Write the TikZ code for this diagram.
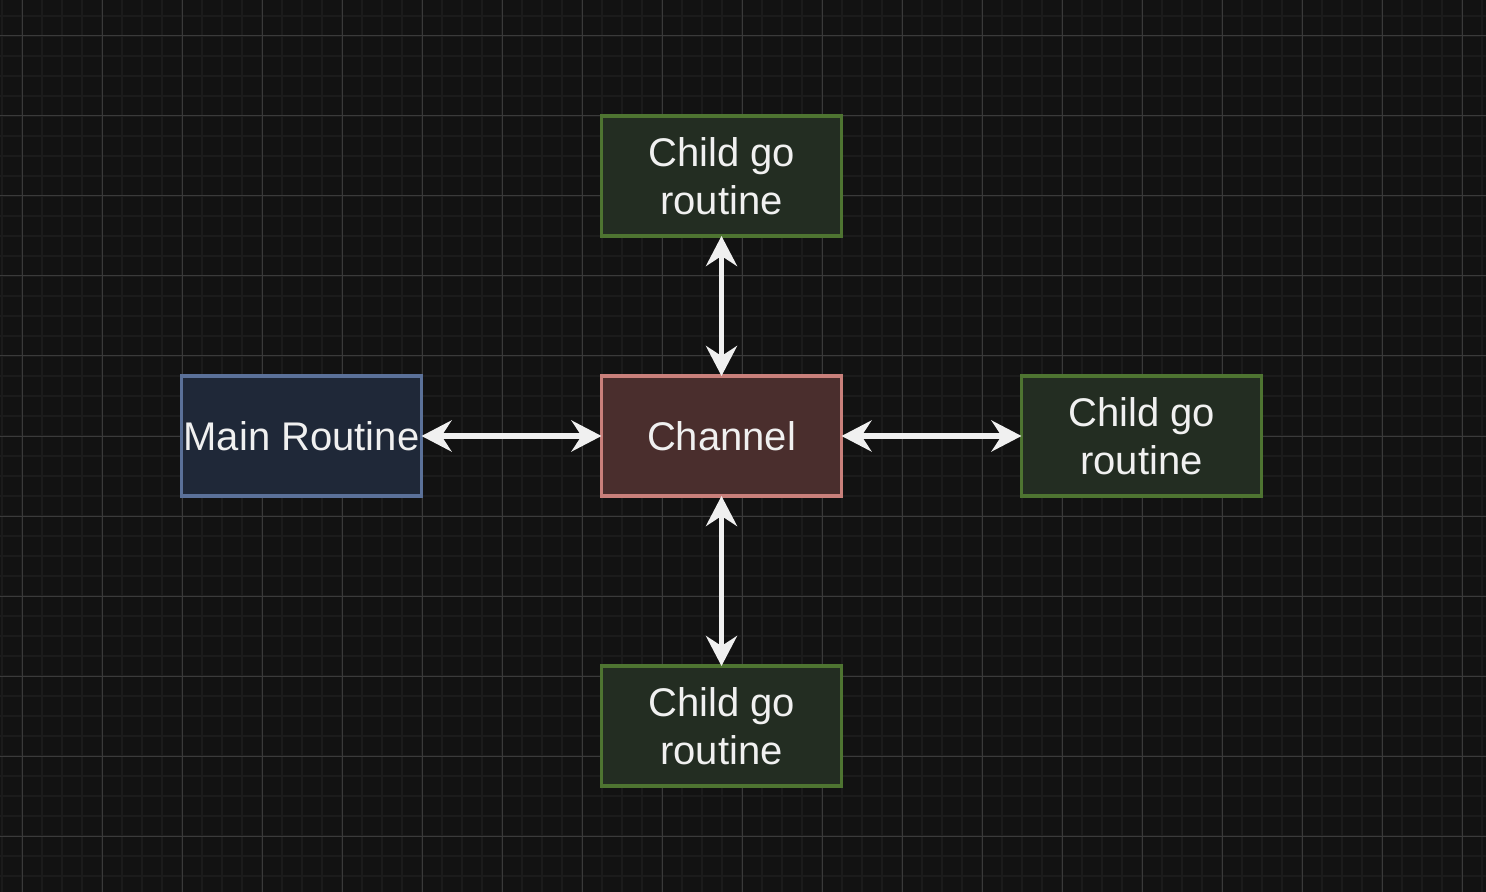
\documentclass[tikz,border=0pt]{standalone}
\usepackage{fontspec}
\setmainfont{Liberation Sans}
\usepackage{tikz}
\usetikzlibrary{positioning,arrows.meta}

\definecolor{bgdark}{HTML}{121212}
\definecolor{gridminor}{HTML}{1B1B1B}
\definecolor{gridmajor}{HTML}{3A3A3A}
\definecolor{txt}{HTML}{F0F0F0}
\definecolor{mainfill}{HTML}{1F2838}
\definecolor{maindraw}{HTML}{5B7199}
\definecolor{chanfill}{HTML}{4A2E2D}
\definecolor{chandraw}{HTML}{C9807B}
\definecolor{childfill}{HTML}{232D22}
\definecolor{childdraw}{HTML}{4E7431}

\begin{document}
\begin{tikzpicture}[x=0.5pt,y=-0.5pt,
    box/.style={rectangle, line width=1.75pt, minimum width=120pt, minimum height=60pt,
      inner sep=0pt, outer sep=0pt, align=center, text=txt,
      font=\fontsize{20}{24}\selectfont},
    mainbox/.style={box, fill=mainfill, draw=maindraw},
    chanbox/.style={box, fill=chanfill, draw=chandraw},
    childbox/.style={box, fill=childfill, draw=childdraw},
    link/.style={draw=txt, line width=2.75pt,
      {Stealth[length=15pt,width=15.5pt,inset=5pt]}-{Stealth[length=15pt,width=15.5pt,inset=5pt]}}]
    % background and grid
    \fill[bgdark] (0,0) rectangle (1486,892);
    \useasboundingbox (0,0) rectangle (1486,892);
    \foreach \i in {0,...,74} \draw[gridminor, line width=1pt] (2+20*\i,0) -- (2+20*\i,892);
    \foreach \j in {0,...,43} \draw[gridminor, line width=1pt] (0,16+20*\j) -- (1486,16+20*\j);
    \foreach \i in {0,...,18} \draw[gridmajor, line width=0.5pt] (22+80*\i,0) -- (22+80*\i,892);
    \foreach \j in {0,...,10} \draw[gridmajor, line width=0.5pt] (0,36+80*\j) -- (1486,36+80*\j);
    % nodes
    \node[chanbox] (channel) at (721.5,436) {Channel};
    \node[mainbox, left=90pt of channel] (main) {Main Routine};
    \node[childbox, above=70pt of channel] (childtop) {Child go\\routine};
    \node[childbox, right=90pt of channel] (childright) {Child go\\routine};
    \node[childbox, below=85pt of channel] (childbottom) {Child go\\routine};
    % connectors
    \draw[link] (main) -- (channel);
    \draw[link] (channel) -- (childright);
    \draw[link] (channel) -- (childtop);
    \draw[link] (channel) -- (childbottom);
\end{tikzpicture}
\end{document}
